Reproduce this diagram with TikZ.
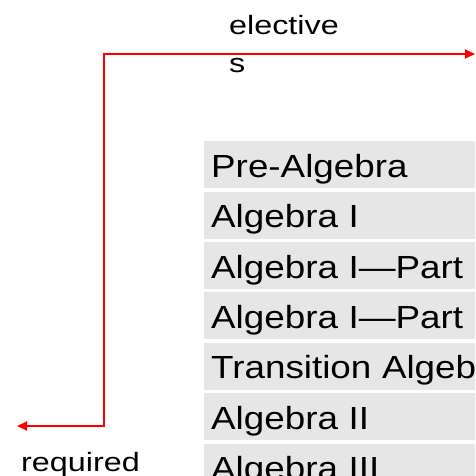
\documentclass[tikz,border=0pt]{standalone}
\usepackage{fontspec}
\setmainfont{Liberation Sans}
\newfontfamily\rowsans[FakeStretch=1.15]{Liberation Sans}
\newfontfamily\tagsans[FakeStretch=1.22]{Liberation Sans}
\usetikzlibrary{arrows.meta,positioning}
\definecolor{RowGray}{HTML}{E6E6E6}
\definecolor{LinkRed}{HTML}{FF0000}

\begin{document}
\begin{tikzpicture}[
  x=1pt, y=-1pt,
  node distance=3pt,
  row/.style={fill=RowGray,anchor=north west,inner xsep=7pt,inner ysep=0pt,
    minimum height=47pt,text width=276pt,align=left,text height=32pt,text depth=7pt,
    font=\rowsans\fontsize{32}{38}\selectfont},
  tag/.style={inner sep=0pt,anchor=base west,align=left,
    font=\tagsans\fontsize{26.5}{37.5}\selectfont},
  link/.style={{Triangle[length=10pt,width=9pt]}-{Triangle[length=10pt,width=9pt]},
    line width=2pt,LinkRed}
]
  \clip (0,0) rectangle (475,476);

  % course list
  \node[row] (prealg) at (204,141) {Pre-Algebra};
  \node[row, below=of prealg] (alg1) {Algebra I};
  \node[row, below=of alg1] (partA) {Algebra I—Part};
  \node[row, below=of partA] (partB) {Algebra I—Part};
  \node[row, below=of partB] (trans) {Transition Algeb};
  \node[row, below=of trans] (alg2) {Algebra II};
  \node[row, below=of alg2] (alg3) {Algebra III};

  % labels (base of the last line)
  \node[tag] (elective) at (229,72.5) {elective\\s};
  \node[tag] (required) at (21,471.5) {required};

  % bracket arrow
  \coordinate (reqTip) at (17,426);
  \coordinate (bend) at (104,54);
  \coordinate (elecTip) at (475,54);
  \draw[link] (reqTip) -| (bend) -- (elecTip);
\end{tikzpicture}
\end{document}
